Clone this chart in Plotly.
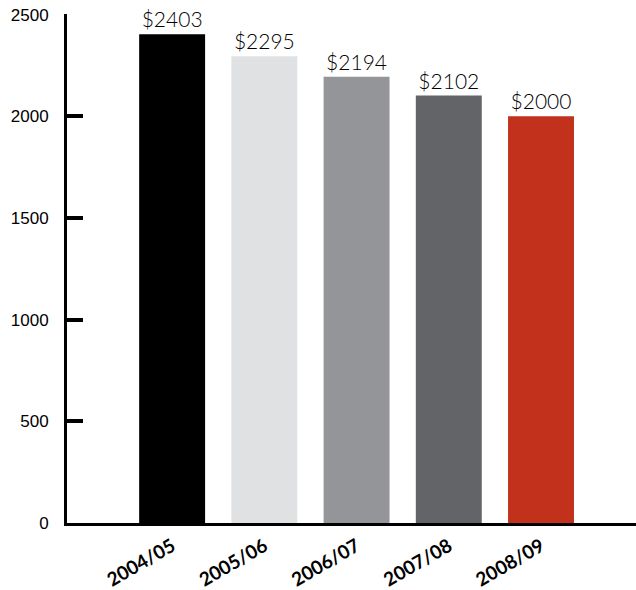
import plotly.graph_objects as go

categories = ["2004/05", "2005/06", "2006/07", "2007/08", "2008/09"]
values = [2403, 2295, 2194, 2102, 2000]
labels = ["$2403", "$2295", "$2194", "$2102", "$2000"]
colors = ["#000000", "#e0e1e3", "#939598", "#636467", "#c1311c"]
ytickvals = [0, 500, 1000, 1500, 2000, 2500]

fig = go.Figure(go.Bar(
    x=categories, y=values, text=labels, textposition="outside",
    marker=dict(color=colors, line=dict(width=0)),
    width=0.715, cliponaxis=False,
    textfont=dict(family="Lato", size=21, color="#000000", weight=300),
))

fig.update_layout(
    width=636, height=590,
    margin=dict(l=67, r=0, t=14, b=67),
    plot_bgcolor="white", paper_bgcolor="white",
    showlegend=False,
)
fig.update_xaxes(
    range=[-1.14, 5.03], showline=True, linecolor="black", linewidth=3,
    ticks="", tickangle=-30, showgrid=False, ticklabelstandoff=2,
    tickfont=dict(family="Lato", size=19, color="black", weight=700),
)
fig.update_yaxes(
    range=[0, 2503], showline=True, linecolor="black", linewidth=3,
    ticks="inside", ticklen=16, tickwidth=4, tickcolor="#000000",
    tickvals=ytickvals, showgrid=False, zeroline=False,
    ticklabelstandoff=12,
    tickfont=dict(family="Liberation Sans", size=17, color="black"),
)

fig.write_html("out.html")
